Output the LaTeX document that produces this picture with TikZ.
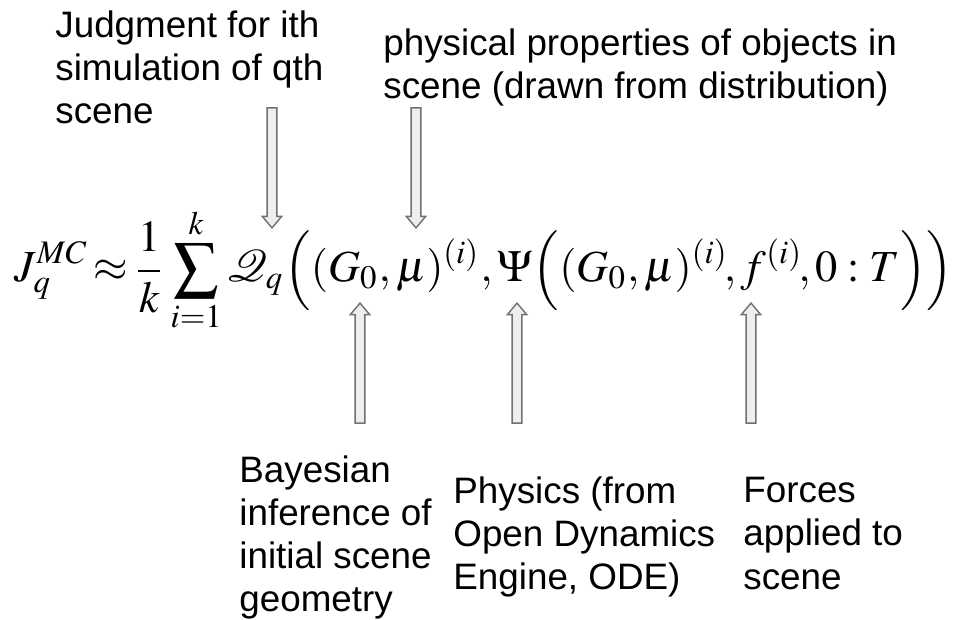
\documentclass[tikz,border=0pt]{standalone}
\usepackage{mathptmx}
\usepackage[no-math]{fontspec}
\usepackage{graphicx}
\usepackage{tikz}
\usetikzlibrary{shapes.arrows, positioning}
\newfontfamily\labelfont{Liberation Sans}
\definecolor{arrowline}{RGB}{112,112,112}
\definecolor{arrowfill}{RGB}{238,238,238}

\begin{document}
\begin{tikzpicture}[x=0.5pt, y=-0.5pt,
        label/.style={font=\labelfont\fontsize{18.4}{21.6}\selectfont, align=left, inner sep=0pt, anchor=north west},
        blockarrow/.style={single arrow, draw=arrowline, fill=arrowfill, line width=0.7pt,
            minimum height=60pt, inner sep=2.1pt,
            single arrow head extend=2.4pt, single arrow tip angle=80}]
        % Define dimensions
        \def\top{165} % centre of the arrows above
        \def\bot{366} % centre of the arrows below

        \useasboundingbox (0,0) rectangle (959,620);

        % Draw the equation
        \node[anchor=base, inner sep=0pt] (eq) at (484,282) {\resizebox{469pt}{!}{$\displaystyle
            J_q^{MC}\!\approx\!\frac{1}{k}\sum_{i=1}^{k}\mathcal{Q}_q\Bigl((G_0,\mu)^{(i)},\Psi\Bigl((G_0,\mu)^{(i)}\!,f^{(i)}\!,0:T\Bigr)\Bigr)$}};

        % Draw the labels above
        \node[label] (judge) at (55,10) {Judgment for ith\\simulation of qth\\scene};
        \node[label] (props) at (383,28) {physical properties of objects in\\scene (drawn from distribution)};

        % Draw the labels below
        \node[label] (bayes) at (239,455) {Bayesian\\inference of\\initial scene\\geometry};
        \node[label] (phys) at (453,476) {Physics (from\\Open Dynamics\\Engine, ODE)};
        \node[label] (force) at (743,477) {Forces\\applied to\\scene};

        % Draw the arrows
        \foreach \x/\name in {272/judgearrow, 416/propsarrow} {
            \node[blockarrow, rotate=-90] (\name) at (\x,\top) {};
        }
        \foreach \x/\name in {360/bayesarrow, 517/physarrow, 751/forcearrow} {
            \node[blockarrow, rotate=90] (\name) at (\x,\bot) {};
        }
    \end{tikzpicture}
\end{document}
